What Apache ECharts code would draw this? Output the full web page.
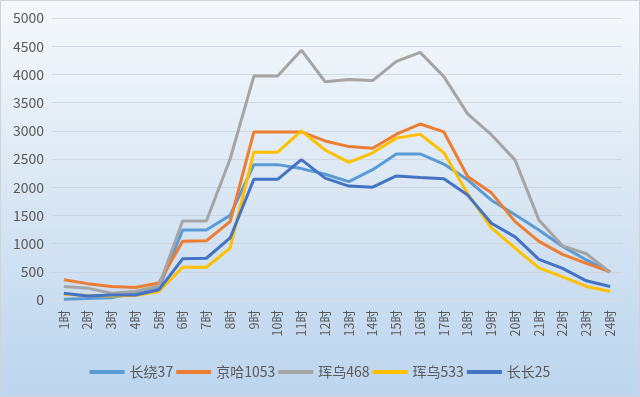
<!DOCTYPE html>
<html>
<head>
<meta charset="utf-8">
<script src="https://cdn.jsdelivr.net/npm/echarts@6/dist/echarts.min.js"></script>
<style>
  html, body { margin: 0; padding: 0; }
  #chart { width: 640px; height: 397px; }
</style>
</head>
<body>
<div id="chart"></div>
<script>
// 时段
const hours = ['1时', '2时', '3时', '4时', '5时', '6时', '7时', '8时', '9时', '10时', '11时', '12时',
  '13时', '14时', '15时', '16时', '17时', '18时', '19时', '20时', '21时', '22时', '23时', '24时'];

// 各线路数据
const changRao37 = [15, 25, 40, 130, 210, 1240, 1240, 1500, 2400, 2400, 2330, 2230,
  2100, 2310, 2590, 2590, 2410, 2130, 1770, 1510, 1240, 950, 710, 500];
const jingHa1053 = [360, 290, 240, 220, 300, 1040, 1050, 1390, 2980, 2980, 2980, 2820,
  2720, 2690, 2940, 3120, 2980, 2190, 1900, 1390, 1040, 810, 650, 500];
const hunWu468 = [240, 210, 120, 150, 250, 1400, 1400, 2500, 3970, 3970, 4430, 3870,
  3910, 3890, 4230, 4390, 3960, 3300, 2930, 2480, 1420, 960, 820, 490];
const hunWu533 = [100, 80, 70, 80, 150, 580, 580, 920, 2620, 2620, 3000, 2660,
  2440, 2610, 2870, 2940, 2610, 1890, 1280, 920, 570, 410, 240, 150];
const changChang25 = [120, 70, 90, 90, 180, 730, 740, 1100, 2140, 2140, 2490, 2160,
  2020, 2000, 2200, 2170, 2150, 1860, 1360, 1120, 720, 560, 340, 240];

const seriesNames = ['长绕37', '京哈1053', '珲乌468', '珲乌533', '长长25'];
const seriesColors = ['#5b9bd5', '#ed7d31', '#a5a5a5', '#ffc000', '#4472c4'];
const seriesData = [changRao37, jingHa1053, hunWu468, hunWu533, changChang25];

const textColor = '#595959';
const fontFamily = '"Noto Sans CJK SC", "Noto Sans", sans-serif';

const myChart = echarts.init(document.getElementById('chart'));

const option = {
  animation: false,
  backgroundColor: new echarts.graphic.LinearGradient(0, 0, 0, 1, [
    { offset: 0, color: '#f6f9fc' },
    { offset: 0.5, color: '#d9e6f3' },
    { offset: 1, color: '#bcd5ee' }
  ]),
  graphic: [{
    type: 'rect',
    shape: { x: 0.5, y: 0.5, width: 639, height: 396 },
    style: { fill: 'none', stroke: '#d0d4d9', lineWidth: 1 },
    silent: true
  }],
  legend: {
    data: seriesNames,
    bottom: 13,
    left: 'center',
    icon: 'rect',
    itemWidth: 35,
    itemHeight: 4,
    itemGap: 3,
    textStyle: { color: textColor, fontSize: 14, fontFamily: fontFamily }
  },
  grid: {
    left: 52,
    right: 18,
    top: 18,
    bottom: 97
  },
  xAxis: {
    type: 'category',
    data: hours,
    boundaryGap: true,
    axisTick: { show: false },
    axisLine: { lineStyle: { color: '#d9dfe6', width: 1 } },
    axisLabel: {
      rotate: 90,
      interval: 0,
      color: textColor,
      fontSize: 12.5,
      fontFamily: fontFamily,
      margin: 10
    }
  },
  yAxis: {
    type: 'value',
    min: 0,
    max: 5000,
    interval: 500,
    axisLine: { show: false },
    axisTick: { show: false },
    axisLabel: {
      color: textColor,
      fontSize: 14,
      fontFamily: fontFamily,
      margin: 8,
      formatter: (v) => String(v)
    },
    splitLine: { lineStyle: { color: 'rgba(200,208,218,0.7)', width: 1 } }
  },
  series: seriesNames.map((name, i) => ({
    name: name,
    type: 'line',
    data: seriesData[i],
    showSymbol: false,
    symbol: 'none',
    lineStyle: { color: seriesColors[i], width: 3 },
    itemStyle: { color: seriesColors[i] }
  }))
};

myChart.setOption(option);
</script>
</body>
</html>
